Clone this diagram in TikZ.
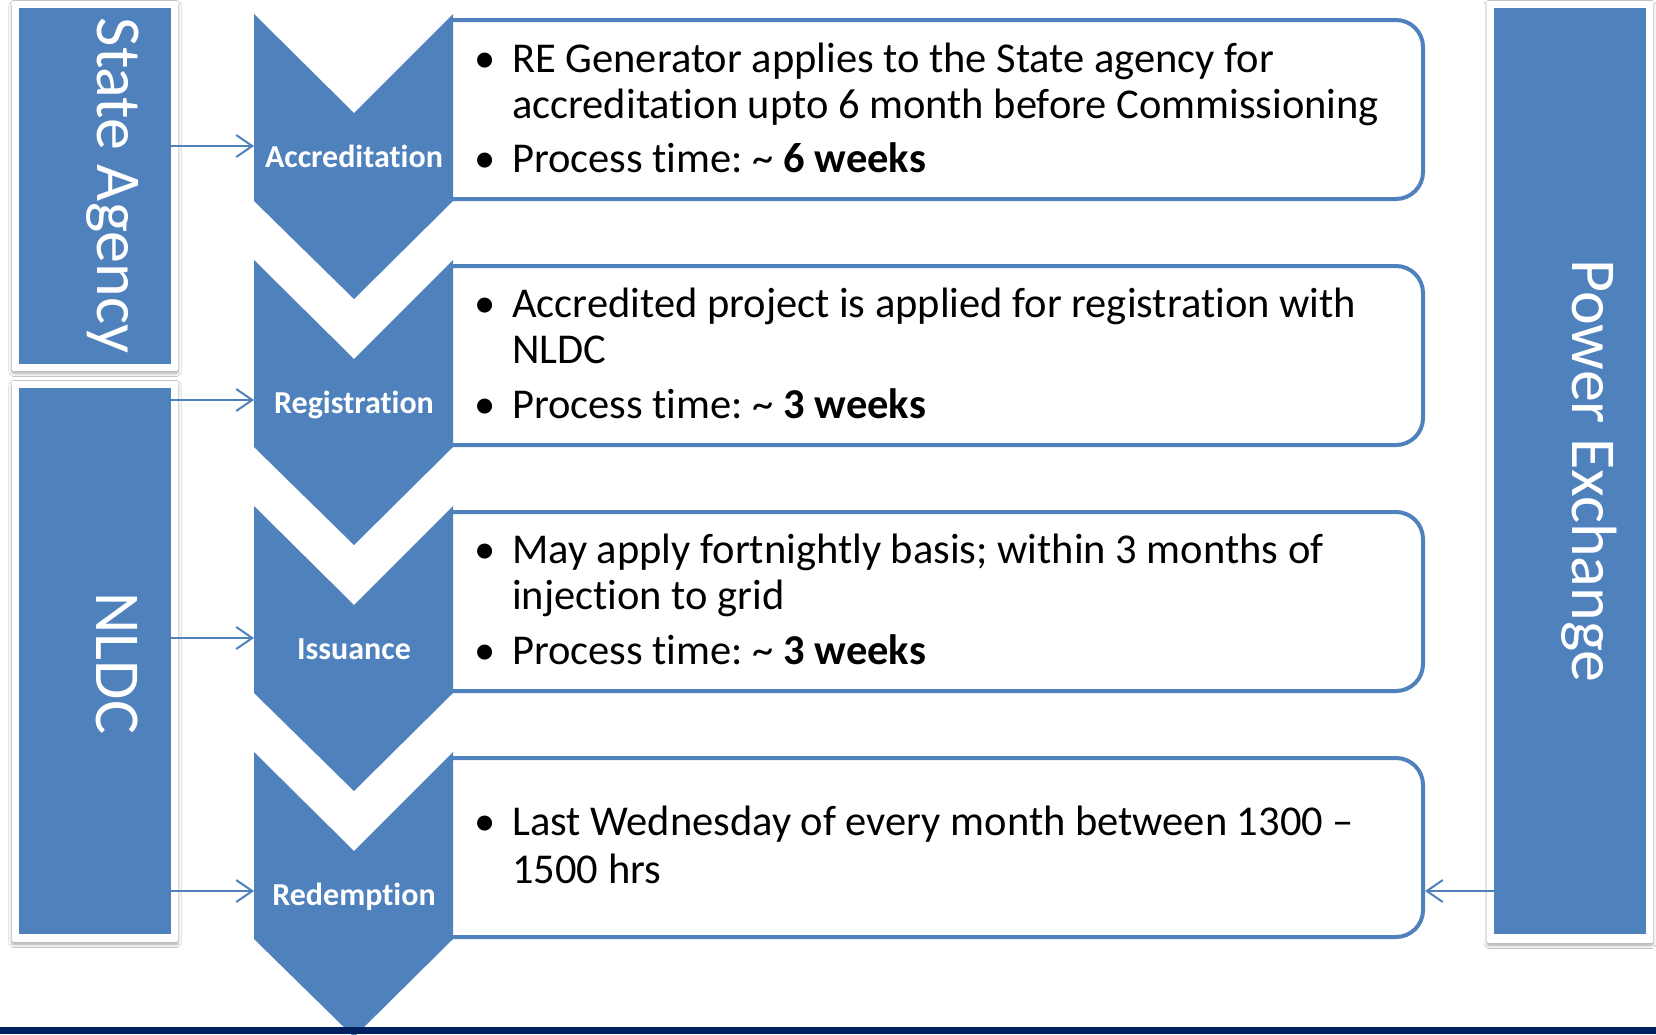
\documentclass[tikz,border=0pt]{standalone}
\usepackage{fontspec}
\setmainfont{Carlito}[Ligatures={NoCommon}]
\usetikzlibrary{arrows.meta,shadows.blur,calc}
\definecolor{accblue}{HTML}{4F81BD}
\definecolor{navy}{HTML}{002060}
\newcommand\mychev[3]{%
  \draw[boxline] (453,{#1+6}) -- (1423,{#1+6}) -- (1423,{#1+185}) -- (453,{#1+185});
  \fill[accblue] (254,#1) -- (354,{#1+99}) -- (453,#1) -- (453,{#1+187}) -- (354,{#1+285}) -- (254,{#1+187}) -- cycle;
  \node[chevlabel] (#2) at (354,{#1+153}) {#3};
}
\tikzset{
  boxline/.style={draw=accblue, fill=white, line width=4pt, rounded corners=27pt},
  chevlabel/.style={anchor=base, text=white, font=\fontsize{32}{38}\selectfont\bfseries, inner sep=0pt},
  frame/.style={fill=white, draw=none, inner sep=0pt, outer sep=0pt, rounded corners=2pt,
    blur shadow={shadow xshift=0pt, shadow yshift=-2.5pt, shadow blur radius=3pt,
      shadow blur steps=6, shadow opacity=35}},
  blueblk/.style={fill=accblue, draw=none, inner sep=0pt, outer sep=0pt},
  vtext/.style={anchor=base, rotate=-90, text=white, font=\fontsize{64}{70}\selectfont, inner sep=0pt},
  txt/.style={anchor=base west, font=\fontsize{42.5}{46}\selectfont, inner sep=0pt},
  bul/.style={anchor=base, font=\fontsize{42.5}{46}\selectfont, inner sep=0pt},
  conn/.style={draw=accblue, line width=2pt, -{Straight Barb[length=16pt,width=22pt]}}
}
\newcommand\tld{\hspace{-3pt} \symbol{126}}
\begin{document}
\begin{tikzpicture}[x=1pt,y=-1pt]
\useasboundingbox (0,0) rectangle (1656,1034);
\clip (0,0) rectangle (1656,1034);
\fill[white] (0,0) rectangle (1656,1034);

% side actors
\node[frame, minimum width=166pt, minimum height=370pt] (saf) at (95,186) {};
\node[blueblk, minimum width=152pt, minimum height=356pt] (sa) at (95,186) {};
\node[vtext] (satext) at (97,185.5) {State Agency};

\node[frame, minimum width=166pt, minimum height=561pt] (nlf) at (95,661.5) {};
\node[blueblk, minimum width=152pt, minimum height=546pt] (nl) at (95,661) {};
\node[vtext] (nltext) at (96,663.5) {NLDC};

\node[frame, minimum width=166pt, minimum height=942pt] (pef) at (1570,472) {};
\node[blueblk, minimum width=152pt, minimum height=926pt] (pe) at (1570,471) {};
\node[vtext] (petext) at (1572,471) {Power Exchange};

% steps
\mychev{14}{acc}{Accreditation}
\mychev{260}{reg}{Registration}
\mychev{506}{iss}{Issuance}
\mychev{752}{red}{Redemption}

% box texts
\node[bul] (d11) at (485,72) {\textbullet};
\node[txt] (t11) at (512,72) {RE Generator applies to the State agency for};
\node[txt] (t12) at (512,118) {accreditation upto 6 month before Commissioning};
\node[bul] (d12) at (485,172) {\textbullet};
\node[txt] (t13) at (512,172) {Process time:\tld{} \textbf{6 weeks}};

\node[bul] (d21) at (485,317) {\textbullet};
\node[txt] (t21) at (512,317) {Accredited project is applied for registration with};
\node[txt] (t22) at (512,363) {NLDC};
\node[bul] (d22) at (485,418) {\textbullet};
\node[txt] (t23) at (512,418) {Process time:\tld{} \textbf{3 weeks}};

\node[bul] (d31) at (485,563) {\textbullet};
\node[txt] (t31) at (512,563) {May apply fortnightly basis; within 3 months of};
\node[txt] (t32) at (512,609) {injection to grid};
\node[bul] (d32) at (485,664) {\textbullet};
\node[txt] (t33) at (512,664) {Process time:\tld{} \textbf{3 weeks}};

\node[bul] (d41) at (485,835) {\textbullet};
\node[txt] (t41) at (512,835) {Last Wednesday of every month between 1300 –};
\node[txt] (t42) at (512,883) {1500 hrs};

% connectors
\coordinate (a1) at (254,146);
\coordinate (a2) at (254,400);
\coordinate (a3) at (254,638);
\coordinate (a4) at (254,891);
\coordinate (pa) at (1425,891);
\draw[conn] (sa.east |- a1) -- (a1);
\draw[conn] (nl.east |- a2) -- (a2);
\draw[conn] (nl.east |- a3) -- (a3);
\draw[conn] (nl.east |- a4) -- (a4);
\draw[conn] ($(pe.west |- pa)+(18,0)$) -- (pa);

% bottom bar
\fill[navy] (0,1027) rectangle (1656,1034);
\end{tikzpicture}
\end{document}
